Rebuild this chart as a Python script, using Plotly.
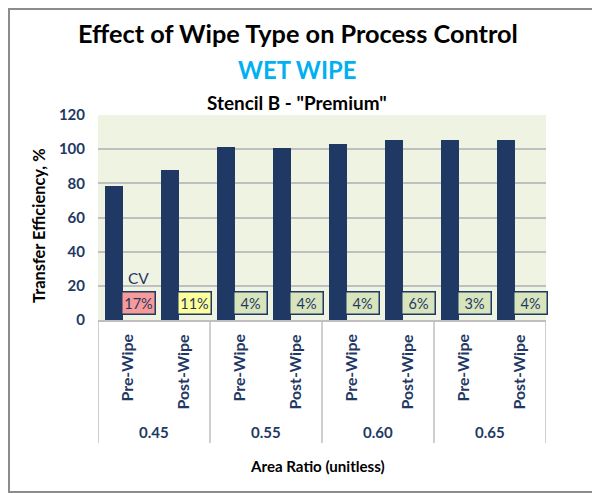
import plotly.graph_objects as go

# ---- data ----
area_ratios = ["0.45", "0.45", "0.55", "0.55", "0.60", "0.60", "0.65", "0.65"]
wipe_types = ["Pre-Wipe", "Post-Wipe", "Pre-Wipe", "Post-Wipe",
              "Pre-Wipe", "Post-Wipe", "Pre-Wipe", "Post-Wipe"]
transfer_eff = [78.6, 87.6, 101.1, 100.7, 103.2, 105.4, 105.3, 105.4]
cv_labels = ["17%", "11%", "4%", "4%", "4%", "6%", "3%", "4%"]
cv_fill = ["#F79A9A", "#FFFF99", "#D7E4BC", "#D7E4BC",
           "#D7E4BC", "#D7E4BC", "#D7E4BC", "#D7E4BC"]
group_labels = ["0.45", "0.55", "0.60", "0.65"]
y_ticks = [0, 20, 40, 60, 80, 100, 120]

NAVY = "#1F3864"
FONT = "Lato"

keys = [f"{r} {w}" for r, w in zip(area_ratios, wipe_types)]

fig = go.Figure()
fig.add_trace(go.Bar(
    x=keys, y=transfer_eff,
    width=0.32, offset=-0.375,
    marker=dict(color=NAVY, line=dict(width=0)),
    hoverinfo="x+y", showlegend=False,
))

ann = []
# CV boxes
for k, lab, col in zip(keys, cv_labels, cv_fill):
    ann.append(dict(x=k, y=10, xref="x", yref="y", text=lab, showarrow=False,
                    xshift=12, width=30, height=19, borderpad=1,
                    bgcolor=col, bordercolor=NAVY, borderwidth=1.5,
                    font=dict(family=FONT, size=14.5, color=NAVY)))
ann.append(dict(x=keys[0], y=24.8, xref="x", yref="y", text="CV", showarrow=False,
                xshift=12, font=dict(family=FONT, size=15.5, color=NAVY)))

# inner tick labels (rotated)
for k, w in zip(keys, wipe_types):
    ann.append(dict(x=k, y=-0.063, xref="x", yref="paper", text=f"<b>{w}</b>",
                    showarrow=False, textangle=-90, yanchor="top",
                    font=dict(family=FONT, size=15.8, color=NAVY)))
# group labels
for gi, g in enumerate(group_labels):
    ann.append(dict(x=gi * 2 + 0.5, y=-0.546, xref="x", yref="paper", text=f"<b>{g}</b>",
                    showarrow=False, yanchor="middle",
                    font=dict(family=FONT, size=15, color=NAVY)))

# titles
ann.append(dict(x=0.446, y=1.40, xref="paper", yref="paper",
                text="<b>Effect of Wipe Type on Process Control</b>", showarrow=False,
                yanchor="middle", font=dict(family=FONT, size=25.3, color="black")))
ann.append(dict(x=0.445, y=1.22, xref="paper", yref="paper",
                text="<b>WET WIPE</b>", showarrow=False,
                yanchor="middle", font=dict(family=FONT, size=23.8, color="#00B0F0")))
ann.append(dict(x=0.445, y=1.063, xref="paper", yref="paper",
                text="<b>Stencil B - \"Premium\"</b>", showarrow=False,
                yanchor="middle", font=dict(family=FONT, size=18.9, color="black")))
# axis titles
ann.append(dict(x=-0.134, y=0.463, xref="paper", yref="paper",
                text="<b>Transfer Efficiency, %</b>", showarrow=False, textangle=-90,
                xanchor="center", yanchor="middle",
                font=dict(family=FONT, size=16.4, color="black")))
ann.append(dict(x=0.49, y=-0.712, xref="paper", yref="paper",
                text="<b>Area Ratio (unitless)</b>", showarrow=False,
                yanchor="middle", font=dict(family=FONT, size=15.1, color="black")))

shapes = []
for b in [-0.5, 1.5, 3.5, 5.5, 7.5]:
    shapes.append(dict(type="line", xref="x", yref="paper", x0=b, x1=b, y0=0, y1=-0.6,
                       line=dict(color="#BFBFBF", width=1.5)))
# outer border
shapes.append(dict(type="rect", xref="paper", yref="paper",
                   x0=-0.1987, x1=1.1161, y0=-0.839, y1=1.517,
                   line=dict(color="#8C8C8C", width=2)))

# figure is 8px smaller than the window to account for the page's body margin
fig.update_layout(
    width=592, height=485, autosize=False,
    margin=dict(l=90, r=54, t=107, b=173),
    paper_bgcolor="white", plot_bgcolor="#EEF4E1",
    annotations=ann, shapes=shapes,
    bargap=0,
)
fig.update_xaxes(showticklabels=False, ticks="", showgrid=False, zeroline=False,
                 showline=True, linecolor="#BFBFBF", linewidth=2,
                 range=[-0.5, 7.5])
fig.update_yaxes(range=[0, 120], tickvals=y_ticks, showgrid=True,
                 gridcolor="#BFBFBF", gridwidth=2, zeroline=False, showline=False,
                 ticks="", ticklabelstandoff=12,
                 tickfont=dict(family=FONT, size=15, color=NAVY, weight="bold"))

fig.write_html("out.html")
